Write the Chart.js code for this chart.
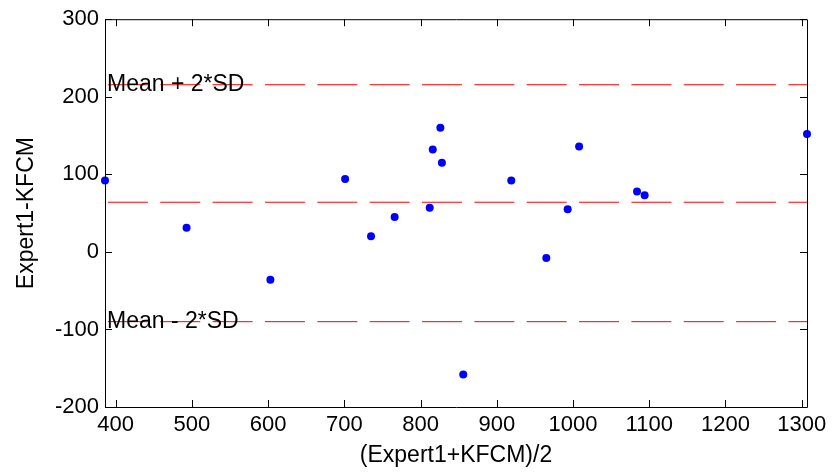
<!DOCTYPE html>
<html lang="en">
<head>
    <meta charset="UTF-8">
    <title>Bland-Altman: Expert1 vs KFCM</title>
    <script src="https://cdn.jsdelivr.net/npm/chart.js"></script>
    <style>
        body {
            margin: 0;
            background-color: #ffffff;
        }
        .wrap {
            width: 832px;
            height: 474px;
        }
    </style>
</head>
<body>
    <div class="wrap">
        <canvas id="baChart" width="832" height="474"></canvas>
    </div>

    <script>
        // values
        const meanValues = [386, 493, 603, 701, 735, 766, 812, 816, 826, 828, 919, 965, 993, 1008, 1084, 1094, 1307, 856];
        const diffValues = [92, 31, -36, 94, 20, 45, 57, 132, 160, 115, 92, -8, 55, 136, 78, 73, 152, -158];

        const xRange = [386, 1307];
        const yRange = [-200, 300];
        const xTicks = [400, 500, 600, 700, 800, 900, 1000, 1100, 1200, 1300];
        const yTicks = [-200, -100, 0, 100, 200, 300];

        // mean + 2SD, mean, mean - 2SD
        const limitValues = [215.5, 64, -90];
        const limitLabels = ['Mean + 2*SD', '', 'Mean - 2*SD'];

        const xTitle = '(Expert1+KFCM)/2';
        const yTitle = 'Expert1-KFCM';

        const FONT = "'Liberation Sans', Arial, sans-serif";

        const points = meanValues.map((m, i) => ({ x: m, y: diffValues[i] }));

        const limitDatasets = limitValues.map(v => ({
            type: 'line',
            data: [{ x: xRange[0], y: v }, { x: xRange[1], y: v }],
            borderColor: '#ff0000',
            borderWidth: 1,
            borderDash: [40, 12.35],
            borderDashOffset: 49.45,
            pointRadius: 0,
            showLine: true,
            fill: false
        }));

        // frame, inward ticks and the text next to the limit lines
        const framePlugin = {
            id: 'frame',
            afterDatasetsDraw(chart) {
                const ctx = chart.ctx;
                const a = chart.chartArea;
                const xs = chart.scales.x;
                const ys = chart.scales.y;
                const tl = 7;
                ctx.save();
                ctx.strokeStyle = '#000000';
                ctx.lineWidth = 1;
                ctx.beginPath();
                ctx.rect(a.left + 0.5, a.top + 0.5, a.right - a.left, a.bottom - a.top);
                xTicks.forEach(t => {
                    const px = Math.round(xs.getPixelForValue(t)) + 0.5;
                    ctx.moveTo(px, a.bottom);
                    ctx.lineTo(px, a.bottom - tl);
                    ctx.moveTo(px, a.top);
                    ctx.lineTo(px, a.top + tl);
                });
                yTicks.forEach(t => {
                    const py = Math.round(ys.getPixelForValue(t)) + 0.5;
                    ctx.moveTo(a.left, py);
                    ctx.lineTo(a.left + tl, py);
                    ctx.moveTo(a.right, py);
                    ctx.lineTo(a.right - tl, py);
                });
                ctx.stroke();

                ctx.fillStyle = '#000000';
                ctx.font = '23px ' + FONT;
                ctx.textAlign = 'left';
                ctx.textBaseline = 'middle';
                limitValues.forEach((v, i) => {
                    if (limitLabels[i]) {
                        ctx.fillText(limitLabels[i], xs.getPixelForValue(xRange[0]) + 2, ys.getPixelForValue(v));
                    }
                });
                ctx.restore();
            }
        };

        const ctx = document.getElementById('baChart').getContext('2d');
        new Chart(ctx, {
            type: 'scatter',
            data: {
                datasets: [
                    ...limitDatasets,
                    {
                        data: points,
                        backgroundColor: '#0000ff',
                        borderColor: '#0000ff',
                        borderWidth: 0,
                        pointRadius: 4,
                        clip: false
                    }
                ]
            },
            options: {
                responsive: false,
                animation: false,
                layout: {
                    padding: { top: 18, right: 25, bottom: 0, left: 0 }
                },
                plugins: {
                    legend: { display: false },
                    tooltip: { enabled: false }
                },
                scales: {
                    x: {
                        type: 'linear',
                        position: 'bottom',
                        min: xRange[0],
                        max: xRange[1],
                        afterBuildTicks: s => { s.ticks = xTicks.map(v => ({ value: v })); },
                        afterFit: s => { s.height = 67; },
                        grid: { display: false, drawTicks: false },
                        border: { display: false },
                        ticks: {
                            color: '#000000',
                            padding: 5,
                            maxRotation: 0,
                            autoSkip: false,
                            callback: v => String(v),
                            font: { family: FONT, size: 22 }
                        },
                        title: {
                            display: true,
                            text: xTitle,
                            color: '#000000',
                            padding: { top: 0, bottom: 5 },
                            font: { family: FONT, size: 23 }
                        }
                    },
                    y: {
                        type: 'linear',
                        min: yRange[0],
                        max: yRange[1],
                        afterBuildTicks: s => { s.ticks = yTicks.map(v => ({ value: v })); },
                        afterFit: s => { s.width = 105; },
                        grid: { display: false, drawTicks: false },
                        border: { display: false },
                        ticks: {
                            color: '#000000',
                            padding: 6,
                            autoSkip: false,
                            callback: v => String(v),
                            font: { family: FONT, size: 22 }
                        },
                        title: {
                            display: true,
                            text: yTitle,
                            color: '#000000',
                            padding: { top: 13, bottom: 0 },
                            font: { family: FONT, size: 23 }
                        }
                    }
                }
            },
            plugins: [framePlugin]
        });
    </script>
</body>
</html>
